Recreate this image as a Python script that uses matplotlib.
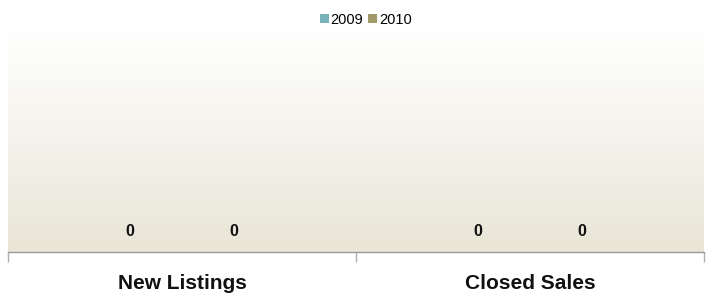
"""Grouped bar chart: new listings vs closed sales, 2009 and 2010."""

import matplotlib
matplotlib.use("Agg")
import matplotlib.pyplot as plt
import numpy as np
from matplotlib.colors import LinearSegmentedColormap

categories = ["New Listings", "Closed Sales"]
series_names = ["2009", "2010"]
values_2009 = [0, 0]
values_2010 = [0, 0]

colors = ["#78b2b9", "#9f9a68"]

plt.rcParams["font.family"] = ["Liberation Sans", "DejaVu Sans"]

fig = plt.figure(figsize=(7.1, 2.95), dpi=100)
ax = fig.add_axes([8 / 710, 1 - 252 / 295, 696 / 710, 222 / 295])

x = np.arange(len(categories))
width = 0.30
ymax = 1.0

# background gradient, beige at bottom fading to white at top
grad = np.linspace(0, 1, 256).reshape(-1, 1)
cmap = LinearSegmentedColormap.from_list("bg", ["#e9e6d7", "#ffffff"])
ax.imshow(grad, cmap=cmap, aspect="auto", extent=(-0.5, len(categories) - 0.5, 0, ymax),
          zorder=0, origin="lower")

for i, (name, vals) in enumerate(zip(series_names, [values_2009, values_2010])):
    offset = (i - 0.5) * width
    bars = ax.bar(x + offset, vals, width * 0.98, color=colors[i], label=name, zorder=2)
    for b, v in zip(bars, vals):
        ax.annotate(f"{v:,}", (b.get_x() + b.get_width() / 2, b.get_height()),
                    xytext=(0, 20.5), textcoords="offset pixels",
                    ha="center", va="center", fontsize=11.5, fontweight="bold", color="#111111")

ax.set_xlim(-0.5, len(categories) - 0.5)
ax.set_ylim(0, ymax)
ax.set_yticks([])
for s in ["top", "left", "right"]:
    ax.spines[s].set_visible(False)
ax.spines["bottom"].set_color("#9a9a9a")
ax.spines["bottom"].set_linewidth(1.0)
ax.spines["bottom"].set_zorder(3)

ax.set_xticks(x)
ax.set_xticklabels(categories, fontsize=15, fontweight="bold", color="#111111")
ax.tick_params(axis="x", which="major", length=0, pad=16)
ax.set_xticks(np.arange(-0.5, len(categories)), minor=True)
ax.tick_params(axis="x", which="minor", length=7, width=1, color="#b0b0b0", direction="out")

fig.legend(loc="center", bbox_to_anchor=(0.515, 1 - 20 / 295), ncol=2, frameon=False,
           fontsize=10.5, handlelength=0.6, handleheight=0.6, handletextpad=0.15,
           columnspacing=0.3, borderpad=0)

fig.savefig("out.png", dpi=100)
